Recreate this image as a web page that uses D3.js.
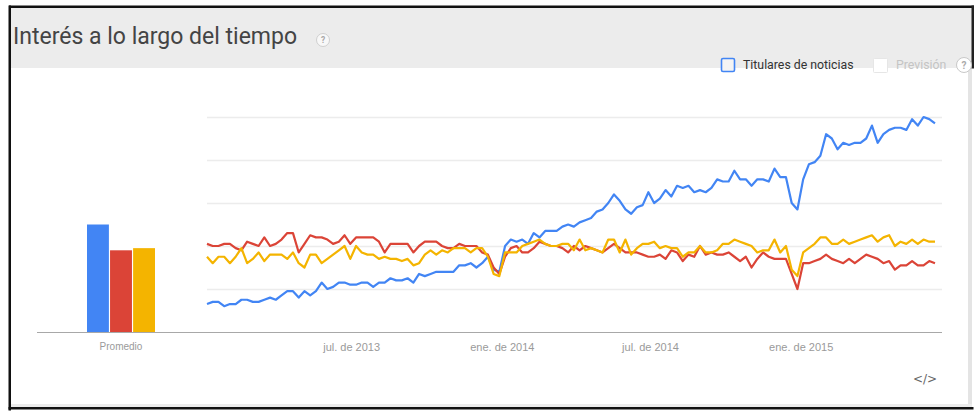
<!DOCTYPE html>
<html>
<head>
<meta charset="utf-8">
<script src="https://cdn.jsdelivr.net/npm/d3@7"></script>
<style>
  html, body { margin: 0; padding: 0; background: #fff; }
  svg { display: block; }
</style>
</head>
<body>
<svg id="chart" width="976" height="412"></svg>
<script>
// ---------------- DATA ----------------
const title = "Interés a lo largo del tiempo";
const legendLabels = ["Titulares de noticias", "Previsión"];
const seriesNames = ["blue", "red", "yellow"];
const seriesColors = ["#4285f4", "#db4437", "#f4b400"];
const averageLabel = "Promedio";
const averages = [50, 38, 39];

// weekly points, first week starting 6 Jan 2013
const firstWeek = new Date(2013, 0, 6);
const weekCount = 128;

const blueValues = [
  13,14,14,12,13,13,15,15,14,14,15,16,15,17,19,19,16,19,17,19,
  23,20,21,23,23,22,22,23,23,21,23,23,25,24,24,25,23,27,26,27,
  28,28,28,28,31,31,32,30,32,35,29,28,40,43,42,43,41,46,44,47,
  47,47,49,50,49,51,52,53,56,57,60,64,61,57,55,58,59,65,60,62,
  66,63,68,67,68,65,66,65,67,71,70,70,75,71,71,68,71,71,70,76,
  72,72,60,57,71,78,79,82,92,90,85,88,87,88,88,90,96,88,92,94,
  95,95,94,99,96,100,99,97
];
const redValues = [
  41,40,40,41,41,39,38,42,41,40,44,40,41,43,46,46,37,41,45,44,
  44,43,41,42,45,41,44,44,44,44,42,37,41,41,41,41,37,40,42,42,
  42,40,39,39,41,40,40,40,37,36,30,27,35,39,40,37,37,39,42,41,
  40,40,39,37,40,38,40,39,38,37,39,41,39,37,37,37,36,35,35,36,
  34,38,37,33,36,35,40,36,37,36,36,37,35,33,35,30,34,37,35,34,
  34,34,27,20,32,32,33,34,36,34,33,32,34,32,34,36,35,34,32,33,
  29,31,31,33,31,31,33,32
];
const yellowValues = [
  35,32,35,35,32,35,39,32,34,37,33,36,36,36,34,37,32,30,36,36,
  32,34,36,38,40,34,40,37,36,36,34,35,34,34,33,34,31,32,36,38,
  36,38,37,39,39,39,37,39,39,35,27,26,37,37,37,40,41,42,43,41,
  40,40,41,41,38,43,38,39,38,37,43,43,37,43,36,39,41,41,42,39,
  40,39,39,35,37,37,40,37,37,38,41,41,43,42,41,40,37,38,38,43,
  37,40,29,26,37,39,41,44,44,41,41,43,41,42,43,44,45,42,44,45,
  40,42,41,43,41,43,42,42
];
const seriesValues = [blueValues, redValues, yellowValues];

const gridValues = [20, 40, 60, 80, 100];
const tickDates = [new Date(2013, 6, 1), new Date(2014, 0, 1), new Date(2014, 6, 1), new Date(2015, 0, 1)];
const tickLabels = ["jul. de 2013", "ene. de 2014", "jul. de 2014", "ene. de 2015"];

// ---------------- DRAW ----------------
const svg = d3.select("#chart");
const dates = d3.range(weekCount).map(i => d3.timeWeek.offset(firstWeek, i));

// frame & background
svg.append("rect").attr("x", 11).attr("y", 8).attr("width", 961).attr("height", 399).attr("fill", "#ffffff");
svg.append("rect").attr("x", 11).attr("y", 8).attr("width", 961).attr("height", 60).attr("fill", "#ececec");
svg.append("rect").attr("x", 968).attr("y", 68).attr("width", 4).attr("height", 339).attr("fill", "#e4e4e4");
svg.append("rect").attr("x", 11).attr("y", 404).attr("width", 961).attr("height", 3).attr("fill", "#ececec");
// black border
svg.append("rect").attr("x", 9).attr("y", 5.5).attr("width", 965).attr("height", 2.5).attr("fill", "#111");
svg.append("rect").attr("x", 8.5).attr("y", 5.5).attr("width", 2.5).attr("height", 405).attr("fill", "#111");
svg.append("rect").attr("x", 8.5).attr("y", 407).attr("width", 965).attr("height", 2.5).attr("fill", "#111");
svg.append("rect").attr("x", 971.5).attr("y", 5.5).attr("width", 2.5).attr("height", 63).attr("fill", "#222");

// title
svg.append("text").attr("x", 13).attr("y", 44)
  .attr("font-family", "Roboto, 'Liberation Sans', sans-serif")
  .attr("font-size", 23).attr("fill", "#444").text(title);

function helpIcon(cx, cy, r, fill, stroke, color, fs) {
  const g = svg.append("g");
  g.append("circle").attr("cx", cx).attr("cy", cy).attr("r", r)
    .attr("fill", fill).attr("stroke", stroke).attr("stroke-width", 1);
  g.append("text").attr("x", cx).attr("y", cy).attr("dy", "0.36em")
    .attr("text-anchor", "middle").attr("font-family", "Roboto, sans-serif")
    .attr("font-weight", "bold").attr("font-size", fs).attr("fill", color).text("?");
}
helpIcon(323, 40, 6.5, "#f8f8f8", "#cfcfcf", "#a8a8a8", 8.5);

// legend
svg.append("rect").attr("x", 721.5).attr("y", 58.5).attr("width", 13).attr("height", 13).attr("rx", 1.5)
  .attr("fill", "#f4f4f4").attr("stroke", seriesColors[0]).attr("stroke-width", 1.6);
svg.append("text").attr("x", 743).attr("y", 65).attr("dy", "0.35em")
  .attr("font-family", "Roboto, sans-serif").attr("font-size", 12.3).attr("fill", "#333").text(legendLabels[0]);
svg.append("rect").attr("x", 873.5).attr("y", 58.5).attr("width", 14).attr("height", 14).attr("rx", 1)
  .attr("fill", "#ffffff").attr("stroke", "#e6e6e6").attr("stroke-width", 1);
svg.append("text").attr("x", 896).attr("y", 65).attr("dy", "0.35em")
  .attr("font-family", "Roboto, sans-serif").attr("font-size", 12.3).attr("fill", "#c4c4c4").text(legendLabels[1]);
helpIcon(964, 65, 7.5, "#ffffff", "#c8c8c8", "#aaaaaa", 10);

// scales
const x = d3.scaleTime().domain([dates[0], dates[weekCount - 1]]).range([207, 935]);
const y = d3.scaleLinear().domain([0, 100]).range([332, 117]);
const xBand = d3.scaleBand().domain([averageLabel]).range([87, 155]);
const xBars = d3.scaleBand().domain(seriesNames).range([87, 155]).paddingInner(0.05);

// gridlines
const grid = svg.append("g").attr("transform", "translate(207,0)")
  .call(d3.axisLeft(y).tickValues(gridValues).tickSize(-735).tickFormat(""));
grid.select(".domain").remove();
grid.selectAll(".tick line").attr("stroke", "#ececec").attr("stroke-width", 1.5);

// bars
svg.append("g").selectAll("rect").data(averages).join("rect")
  .attr("x", (d, i) => xBars(seriesNames[i]))
  .attr("width", xBars.bandwidth())
  .attr("y", d => y(d))
  .attr("height", d => y(0) - y(d))
  .attr("fill", (d, i) => seriesColors[i]);

// baseline
svg.append("line").attr("x1", 37).attr("x2", 942).attr("y1", 332.5).attr("y2", 332.5)
  .attr("stroke", "#a8a8a8").attr("stroke-width", 1);

// lines
const line = d3.line().x((d, i) => x(dates[i])).y(d => y(d)).curve(d3.curveLinear);
svg.append("g").selectAll("path").data(seriesValues).join("path")
  .attr("d", d => line(d))
  .attr("fill", "none")
  .attr("stroke", (d, i) => seriesColors[i])
  .attr("stroke-width", 2.2)
  .attr("stroke-linejoin", "round");

// x axis
const xAxis = svg.append("g").attr("transform", "translate(0,332)")
  .call(d3.axisBottom(x).tickValues(tickDates).tickSize(0).tickPadding(11)
    .tickFormat((d, i) => tickLabels[i]));
xAxis.select(".domain").remove();
xAxis.selectAll("text").attr("font-family", "'Liberation Sans', Arial, sans-serif")
  .attr("font-size", 11).attr("fill", "#9a9a9a");

const bAxis = svg.append("g").attr("transform", "translate(0,332)")
  .call(d3.axisBottom(xBand).tickSize(0).tickPadding(11));
bAxis.select(".domain").remove();
bAxis.selectAll("text").attr("font-family", "'Liberation Sans', Arial, sans-serif")
  .attr("font-size", 10).attr("fill", "#9a9a9a");

// embed icon
svg.append("text").attr("x", 925).attr("y", 379).attr("dy", "0.35em").attr("text-anchor", "middle")
  .attr("font-family", "'DejaVu Sans', sans-serif").attr("font-size", 12).attr("fill", "#666")
  .text("</>");
</script>
</body>
</html>
